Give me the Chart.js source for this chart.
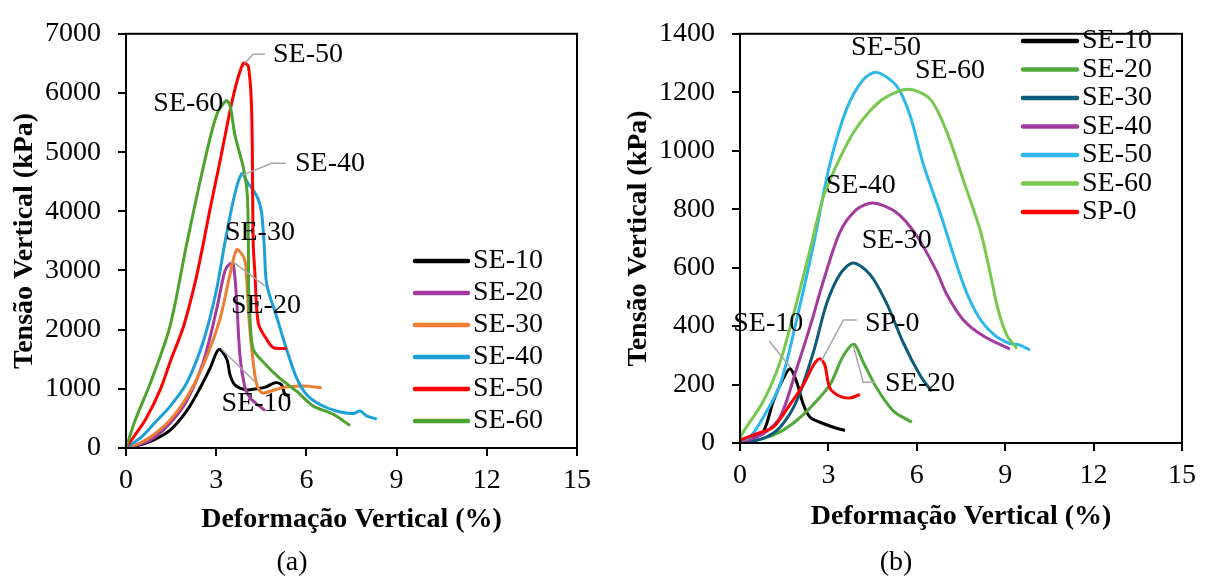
<!DOCTYPE html>
<html>
<head>
<meta charset="utf-8">
<script src="https://cdn.jsdelivr.net/npm/chart.js@4.4.1/dist/chart.umd.min.js"></script>
<style>
  body { margin: 0; background: #fff; }
  #wrap { position: relative; width: 1205px; height: 577px; overflow: hidden; }
  canvas { position: absolute; top: 0; }
  .cap { position: absolute; width: 100px; text-align: center; font: 28px "Liberation Serif", "Times New Roman", serif; line-height: 34px; }
</style>
</head>
<body>
<div id="wrap">
  <canvas id="chartA" width="600" height="577" style="left:0"></canvas>
  <canvas id="chartB" width="605" height="577" style="left:600px"></canvas>
  <div class="cap" style="left:242px; top:544px">(a)</div>
  <div class="cap" style="left:846px; top:544px">(b)</div>
</div>
<script>
// ---- dados (a) : [deformação %, tensão kPa]
const labelsA = ['SE-10', 'SE-20', 'SE-30', 'SE-40', 'SE-50', 'SE-60'];
const colorsA = ['#000000', '#A23BA0', '#ED7D31', '#1D9FDA', '#FF0000', '#4EA22E'];
const se10a = [[0,0],[0.45,50],[0.91,132],[1.46,297],[2.02,626],[2.46,1010],[2.79,1340],[3.09,1669],[3.35,1504],[3.46,1235],[3.62,1066],[4.01,983],[4.46,1010],[4.68,1038],[4.96,1104],[5.18,1066],[5.29,901],[5.45,890]];
const se20a = [[0,0],[0.45,60],[0.91,165],[1.46,412],[2.02,796],[2.57,1455],[3.01,2334],[3.29,2993],[3.46,3114],[3.57,3103],[3.68,2499],[3.79,1565],[3.96,1016],[4.12,851],[4.35,741],[4.63,631]];
const se30a = [[0,0],[0.45,80],[0.91,220],[1.46,467],[2.02,851],[2.57,1400],[3.12,2169],[3.46,2938],[3.68,3350],[3.9,3240],[3.98,3100],[4.1,2114],[4.23,1455],[4.35,1071],[4.52,933],[4.74,950],[5.18,1016],[5.62,1043],[6.06,1043],[6.51,1016]];
const se40a = [[0,0],[0.5,180],[1.02,461],[1.46,700],[2.02,1100],[2.57,1800],[3.0,2650],[3.3,3500],[3.6,4250],[3.85,4634],[4.05,4480],[4.23,4360],[4.4,4200],[4.51,3975],[4.6,3400],[4.68,2768],[5.01,2219],[5.34,1669],[5.68,1175],[6.01,901],[6.45,736],[7.0,626],[7.56,582],[7.78,626],[8.0,544],[8.34,489]];
const se50a = [[0,0],[0.3,220],[0.65,480],[1.15,1000],[1.5,1500],[1.91,2050],[2.3,2800],[2.57,3450],[2.78,4000],[3.13,4855],[3.57,5952],[3.9,6502],[4.07,6447],[4.18,5678],[4.23,3481],[4.29,2932],[4.4,2109],[4.68,1834],[4.9,1697],[5.34,1680]];
const se60a = [[0,0],[0.3,461],[0.85,1150],[1.46,2050],[2.02,3450],[2.57,4745],[3.01,5623],[3.33,5870],[3.46,5788],[3.62,5293],[3.9,4745],[4.03,4305],[4.07,3481],[4.08,2600],[4.12,2219],[4.23,1669],[4.57,1450],[5.12,1175],[5.68,956],[6.23,708],[6.89,572],[7.45,379]];

// ---- dados (b)
const labelsB = ['SE-10', 'SE-20', 'SE-30', 'SE-40', 'SE-50', 'SE-60', 'SP-0'];
const colorsB = ['#000000', '#4FA83A', '#0E5C7A', '#A33A9E', '#2DB8EC', '#78C850', '#FF0000'];
const se10b = [[0,0],[0.4,15],[0.79,38],[1.13,143],[1.47,221],[1.7,254],[1.92,210],[2.15,132],[2.38,88],[2.71,71],[3.17,54],[3.56,43]];
const se20b = [[0,0],[0.79,16],[1.36,38],[1.92,77],[2.49,132],[3.05,199],[3.51,299],[3.87,338],[4.18,277],[4.64,188],[5.2,110],[5.83,71]];
const se30b = [[0,0],[0.79,16],[1.36,54],[1.92,143],[2.49,310],[2.94,477],[3.39,577],[3.84,616],[4.41,577],[4.98,477],[5.54,343],[6.11,232],[6.5,177]];
const se40b = [[0,0],[0.79,32],[1.36,88],[1.92,254],[2.38,399],[2.83,554],[3.39,721],[3.96,799],[4.52,821],[5.32,788],[5.99,710],[6.67,588],[7.01,510],[7.58,421],[8.26,366],[9.16,321]];
const se50b = [[0,10],[0.34,21],[0.79,88],[1.36,199],[1.92,421],[2.49,677],[3.05,954],[3.62,1143],[4.18,1243],[4.64,1268],[5.32,1221],[5.77,1121],[6.22,954],[6.79,788],[7.58,543],[8.09,433],[8.61,372],[9.14,341],[9.5,335],[9.84,318]];
const se60b = [[0,15],[0.11,38],[0.79,143],[1.36,277],[1.92,480],[2.4,670],[2.83,843],[3.39,975],[3.9,1070],[4.4,1135],[4.9,1180],[5.71,1210],[6.45,1177],[7.01,1066],[7.58,899],[8.14,732],[8.45,600],[8.75,460],[9.05,370],[9.4,323]];
const sp0b = [[0,10],[0.57,32],[1.13,54],[1.7,132],[2.15,199],[2.49,266],[2.71,288],[2.88,266],[3.05,188],[3.39,160],[3.73,154],[4.07,166]];

// ---- eixos
const xTicks = [0, 3, 6, 9, 12, 15];
const yTicksA = [0, 1000, 2000, 3000, 4000, 5000, 6000, 7000];
const yTicksB = [0, 200, 400, 600, 800, 1000, 1200, 1400];

// ---- rótulos no gráfico: texto, ponto do texto (dados), linha guia (dados)
const notesA = [
  { text: 'SE-50', at: [4.89, 6655], lead: [[3.96,6502],[4.23,6655],[4.62,6655]] },
  { text: 'SE-60', at: [0.91, 5815], lead: [] },
  { text: 'SE-40', at: [5.62, 4800], lead: [[3.85,4608],[4.85,4811],[5.31,4811]] },
  { text: 'SE-30', at: [3.29, 3641], lead: [] },
  { text: 'SE-20', at: [3.49, 2410], lead: [[3.57,3142],[4.62,2740]] },
  { text: 'SE-10', at: [3.18, 746], lead: [[3.18,1669],[4.29,1120]] }
];
const notesB = [
  { text: 'SE-50', at: [3.77, 1354], lead: [] },
  { text: 'SE-60', at: [5.94, 1274], lead: [] },
  { text: 'SE-40', at: [2.91, 882], lead: [] },
  { text: 'SE-30', at: [4.13, 693], lead: [] },
  { text: 'SE-10', at: [-0.23, 410], lead: [[0.99,349],[1.70,260]] },
  { text: 'SP-0', at: [4.24, 410], lead: [[2.74,277],[3.51,421],[3.96,421]] },
  { text: 'SE-20', at: [4.92, 204], lead: [[3.85,332],[4.18,208],[4.58,208]] }
];

const FONT = '"Liberation Serif", "Times New Roman", serif';
Chart.defaults.font.family = FONT;
Chart.defaults.color = '#000';

// moldura, rótulos e legenda dentro da área do gráfico
const decor = {
  id: 'decor',
  afterDatasetsDraw(chart, args, opts) {
    const { ctx, chartArea: a, scales: { x, y } } = chart;
    ctx.save();
    ctx.strokeStyle = '#000';
    ctx.lineWidth = 2;
    ctx.strokeRect(a.left, a.top, a.right - a.left, a.bottom - a.top);

    ctx.font = '28px ' + FONT;
    ctx.textBaseline = 'middle';
    ctx.textAlign = 'left';
    opts.notes.forEach(n => {
      if (n.lead.length) {
        ctx.strokeStyle = '#A6A6A6';
        ctx.lineWidth = 1.5;
        ctx.beginPath();
        n.lead.forEach((p, i) => {
          const px = x.getPixelForValue(p[0]), py = y.getPixelForValue(p[1]);
          i ? ctx.lineTo(px, py) : ctx.moveTo(px, py);
        });
        ctx.stroke();
      }
      ctx.fillStyle = '#000';
      ctx.fillText(n.text, x.getPixelForValue(n.at[0]), y.getPixelForValue(n.at[1]));
    });

    const lg = opts.legend;
    chart.data.datasets.forEach((ds, i) => {
      const ly = lg.y + i * lg.gap;
      ctx.strokeStyle = ds.borderColor;
      ctx.lineWidth = 4.5;
      ctx.lineCap = 'round';
      ctx.beginPath();
      ctx.moveTo(lg.x, ly);
      ctx.lineTo(lg.x + lg.len, ly);
      ctx.stroke();
      ctx.fillStyle = '#000';
      ctx.fillText(ds.label, lg.x + lg.len + 5, ly);
    });
    ctx.restore();
  }
};

function makeSets(labels, colors, series) {
  return series.map((s, i) => ({
    label: labels[i],
    data: s.map(p => ({ x: p[0], y: p[1] })),
    borderColor: colors[i],
    backgroundColor: colors[i],
    borderWidth: 3,
    pointRadius: 0,
    tension: 0.3,
    fill: false,
    order: series.length - i
  }));
}

function makeChart(id, sets, yTicks, layout) {
  return new Chart(document.getElementById(id), {
    type: 'line',
    data: { datasets: sets },
    options: {
      responsive: false,
      animation: false,
      layout: { padding: { top: 23, right: 23, left: 0, bottom: 0 } },
      plugins: {
        legend: { display: false },
        tooltip: { enabled: false },
        decor: { notes: layout.notes, legend: layout.legend }
      },
      scales: {
        x: {
          type: 'linear', min: 0, max: 15,
          afterBuildTicks: s => { s.ticks = xTicks.map(v => ({ value: v })); },
          afterFit: s => { s.height = layout.xh; },
          grid: { drawOnChartArea: false, drawTicks: true, tickLength: 8, color: '#000', lineWidth: 2 },
          border: { color: '#000', width: 2 },
          ticks: { font: { size: 28 }, padding: 8, maxRotation: 0, callback: v => String(v) },
          title: { display: true, text: 'Deformação Vertical (%)', font: { size: 28, weight: 'bold', lineHeight: 1.2 }, padding: { top: 0, bottom: layout.xtPad } }
        },
        y: {
          type: 'linear', min: 0, max: yTicks[yTicks.length - 1],
          afterBuildTicks: s => { s.ticks = yTicks.map(v => ({ value: v })); },
          afterFit: s => { s.width = layout.yw; },
          grid: { drawOnChartArea: false, drawTicks: true, tickLength: 8, color: '#000', lineWidth: 2 },
          border: { color: '#000', width: 2 },
          ticks: { font: { size: 28 }, padding: 17, callback: v => String(v) },
          title: { display: true, text: 'Tensão Vertical (kPa)', font: { size: 28, weight: 'bold', lineHeight: 1.2 }, padding: { top: layout.ytPad, bottom: 0 } }
        }
      }
    },
    plugins: [decor]
  });
}

makeChart('chartA',
  makeSets(labelsA, colorsA, [se10a, se20a, se30a, se40a, se50a, se60a]),
  yTicksA,
  { xh: 129, yw: 126, xtPad: 40, ytPad: 8, notes: notesA, legend: { x: 415, y: 261, gap: 32, len: 53 } });

makeChart('chartB',
  makeSets(labelsB, colorsB, [se10b, se20b, se30b, se40b, se50b, se60b, sp0b]),
  yTicksB,
  { xh: 134, yw: 140, xtPad: 43, ytPad: 22, notes: notesB, legend: { x: 423, y: 41, gap: 28.5, len: 54 } });
</script>
</body>
</html>
